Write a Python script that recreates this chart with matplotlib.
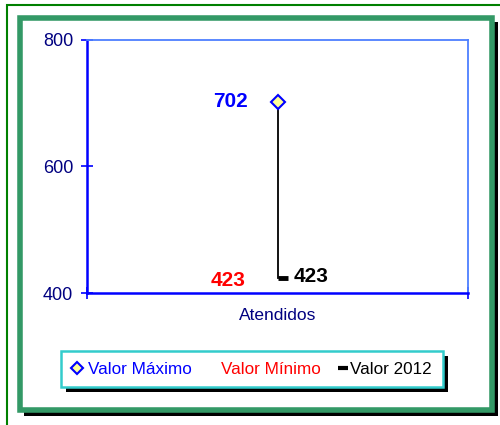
import matplotlib.pyplot as plt
from matplotlib.patches import Rectangle
from matplotlib.lines import Line2D

plt.rcParams['font.family'] = ['Liberation Sans', 'DejaVu Sans']

# data
categories = ['Atendidos']
valor_maximo = [702]
valor_minimo = [423]
valor_2012 = [423]
y_ticks = [400, 600, 800]

W, H = 500, 425
fig = plt.figure(figsize=(W / 100, H / 100), dpi=100)

def fx(px):
    return px / W

def fy(py):
    return 1 - py / H

# outer thin green border and thick green frame with black shadow
fig.patches.append(Rectangle((fx(7), fy(430)), fx(500), fy(5) - fy(430),
                             transform=fig.transFigure, fill=False,
                             edgecolor='#008000', lw=1.5, zorder=-3))
fig.patches.append(Rectangle((fx(24), fy(416)), fx(474), fy(22) - fy(416),
                             transform=fig.transFigure, facecolor='black',
                             edgecolor='none', zorder=-2))
fig.patches.append(Rectangle((fx(19.5), fy(410)), fx(472), fy(17.5) - fy(410),
                             transform=fig.transFigure, facecolor='white',
                             edgecolor='#339966', lw=4, zorder=-1))

ax = fig.add_axes([fx(87), fy(293), fx(468) - fx(87), fy(40) - fy(293)])
ax.set_zorder(1)
ax.patch.set_alpha(0)
x = list(range(len(categories)))

# high-low line
for xi, lo, hi in zip(x, valor_minimo, valor_maximo):
    ax.plot([xi, xi], [lo, hi], color='black', lw=1.3, zorder=2)
ax.plot(x, valor_2012, linestyle='none', marker=1, markersize=7,
        markeredgewidth=3.5, color='black', zorder=3)
ax.plot(x, valor_maximo, linestyle='none', marker='D', markersize=7,
        markerfacecolor='#ffff99', markeredgecolor='#0000ff',
        markeredgewidth=1.5, zorder=4)

for xi, v in zip(x, valor_maximo):
    ax.annotate(str(v), (xi, v), xytext=(-30, 0), textcoords='offset pixels',
                ha='right', va='center', color='#0000ff',
                fontsize=15, fontweight='bold')
for xi, v in zip(x, valor_minimo):
    ax.annotate(str(v), (xi, v), xytext=(-32, -2), textcoords='offset pixels',
                ha='right', va='center', color='#ff0000',
                fontsize=15, fontweight='bold')
for xi, v in zip(x, valor_2012):
    ax.annotate(str(v), (xi, v), xytext=(16, 2), textcoords='offset pixels',
                ha='left', va='center', color='black',
                fontsize=15, fontweight='bold')

ax.set_xlim(-0.5, len(categories) - 0.5)
ax.set_ylim(y_ticks[0], y_ticks[-1])
ax.set_yticks(y_ticks)
ax.set_xticks([i - 0.5 for i in range(len(categories) + 1)])
ax.set_xticklabels([])
ax.set_xticks(x, minor=True)
ax.set_xticklabels(categories, minor=True)
ax.tick_params(axis='x', which='minor', length=0, pad=11,
               labelsize=12.5, labelcolor='#000080')
ax.tick_params(axis='x', which='major', direction='inout', length=8,
               color='#0000ff', width=1.2)
ax.tick_params(axis='y', direction='inout', length=8, color='#0000ff',
               width=1.2, labelsize=13, labelcolor='#000080', pad=6)

for s in ['left', 'bottom']:
    ax.spines[s].set_color('#0000ff')
    ax.spines[s].set_linewidth(1.8)
for s in ['top', 'right']:
    ax.spines[s].set_color('#4d7fff')
    ax.spines[s].set_linewidth(1.3)

# legend box with shadow
fig.patches.append(Rectangle((fx(66), fy(392)), fx(382), fy(356) - fy(392),
                             transform=fig.transFigure, facecolor='black',
                             edgecolor='none', zorder=5))
fig.patches.append(Rectangle((fx(61), fy(387)), fx(382), fy(351) - fy(387),
                             transform=fig.transFigure, facecolor='white',
                             edgecolor='#33cccc', lw=1.8, zorder=6))

handles = [
    Line2D([], [], linestyle='none', marker='D', markersize=6,
           markerfacecolor='#ffff99', markeredgecolor='#0000ff',
           markeredgewidth=1.5),
    Line2D([], [], linestyle='none', marker='none'),
    Line2D([], [], linestyle='none', marker=1, markersize=7,
           markeredgewidth=3, color='black'),
]
labels = ['Valor Máximo', 'Valor Mínimo', 'Valor 2012']
leg = fig.legend(handles, labels, loc='center',
                 bbox_to_anchor=(fx(251), fy(369)), ncol=3, frameon=False,
                 fontsize=12.3, handlelength=0.7, handletextpad=0.3,
                 columnspacing=0.7)
leg.set_zorder(7)
for t, c in zip(leg.get_texts(), ['#0000ff', '#ff0000', 'black']):
    t.set_color(c)

fig.savefig('out.png', dpi=100)
